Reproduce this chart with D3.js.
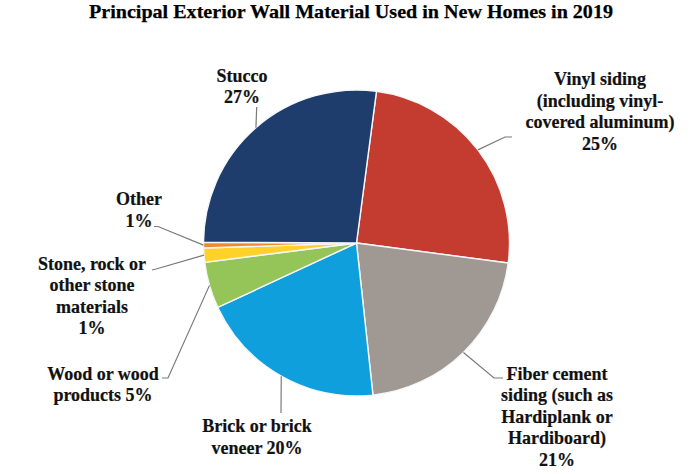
<!DOCTYPE html>
<html><head><meta charset="utf-8">
<script src="https://cdn.jsdelivr.net/npm/d3@7"></script>
<style>body{margin:0;background:#fff}svg{display:block}</style>
</head><body><svg id="c" width="700" height="474"></svg>
<script>
// ---- data ----
const categories = ["Vinyl siding", "Fiber cement siding", "Brick or brick veneer", "Wood or wood products", "Stone, rock or other stone materials", "Other", "Stucco"];
const shares = [25, 21.2, 19.8, 4.9, 1.5, 0.6, 27];
const labelLines = [
  ["Vinyl siding", "(including vinyl-", "covered aluminum)", "25%"],
  ["Fiber cement", "siding (such as", "Hardiplank or", "Hardiboard)", "21%"],
  ["Brick or brick", "veneer 20%"],
  ["Wood or wood", "products 5%"],
  ["Stone, rock or", "other stone", "materials", "1%"],
  ["Other", "1%"],
  ["Stucco", "27%"]
];
const colors = ["#C43B2F", "#A09993", "#0E9FDC", "#95C458", "#FFD22B", "#EF8A2C", "#1E3D6C"];
const title = "Principal Exterior Wall Material Used in New Homes in 2019";

// ---- layout ----
const cx = 356.5, cy = 243, R = 153, LH = 21.6;
// label layout: text centre x, first baseline y, leader elbow points
const labelLayout = [
  {x: 600, y: 85, pts: [[512, 137], [505, 137]]},
  {x: 557, y: 379.5, pts: [[503, 378], [494, 378]]},
  {x: 257, y: 432, pts: [[281, 413]]},
  {x: 103, y: 379.5, pts: [[162, 378], [168, 378]]},
  {x: 92, y: 269.5, pts: [[152, 270], [156, 269]]},
  {x: 139, y: 205, pts: [[154, 226.5], [158, 226.5]]},
  {x: 242, y: 81.5, pts: [[256.7, 107]]}
];

const svg = d3.select("#c");
svg.append("text").attr("x", 89).attr("y", 17.5)
  .attr("textLength", 524).attr("lengthAdjust", "spacingAndGlyphs")
  .style("font-family", "'Liberation Serif','Times New Roman',serif")
  .style("font-weight", "bold").style("font-size", "19.5px").attr("fill", "#000")
  .attr("stroke", "#000").attr("stroke-width", 0.25)
  .text(title);

const start = 7.5 * Math.PI / 180;
const pie = d3.pie().sort(null).startAngle(start).endAngle(start + 2 * Math.PI);
const arcs = pie(shares);
const arc = d3.arc().innerRadius(0).outerRadius(R);
const edge = d3.arc().innerRadius(R).outerRadius(R);

const g = svg.append("g").attr("transform", `translate(${cx},${cy})`);
g.selectAll("path").data(arcs).join("path")
  .attr("d", arc).attr("fill", (d, i) => colors[i])
  .attr("stroke", "#f4f7fa").attr("stroke-width", 1.4).attr("stroke-linejoin", "round");

// leader lines
arcs.forEach((d, i) => {
  const c = edge.centroid(d);
  const p0 = [cx + c[0], cy + c[1]];
  const pts = labelLayout[i].pts.slice().reverse();
  const line = [p0].concat(pts).reverse();
  svg.append("path").attr("d", d3.line()(line))
    .attr("fill", "none").attr("stroke", "#7a7a7a").attr("stroke-width", 1.2);
});

// labels
labelLines.forEach((lines, i) => {
  const L = labelLayout[i];
  const t = svg.append("text").attr("text-anchor", "middle")
    .style("font-family", "'Liberation Serif','Times New Roman',serif")
    .style("font-weight", "bold").style("font-size", "18px").attr("fill", "#111")
    .attr("stroke", "#111").attr("stroke-width", 0.2);
  lines.forEach((s, k) => {
    t.append("tspan").attr("x", L.x).attr("y", L.y + k * LH).text(s);
  });
});
</script></body></html>
